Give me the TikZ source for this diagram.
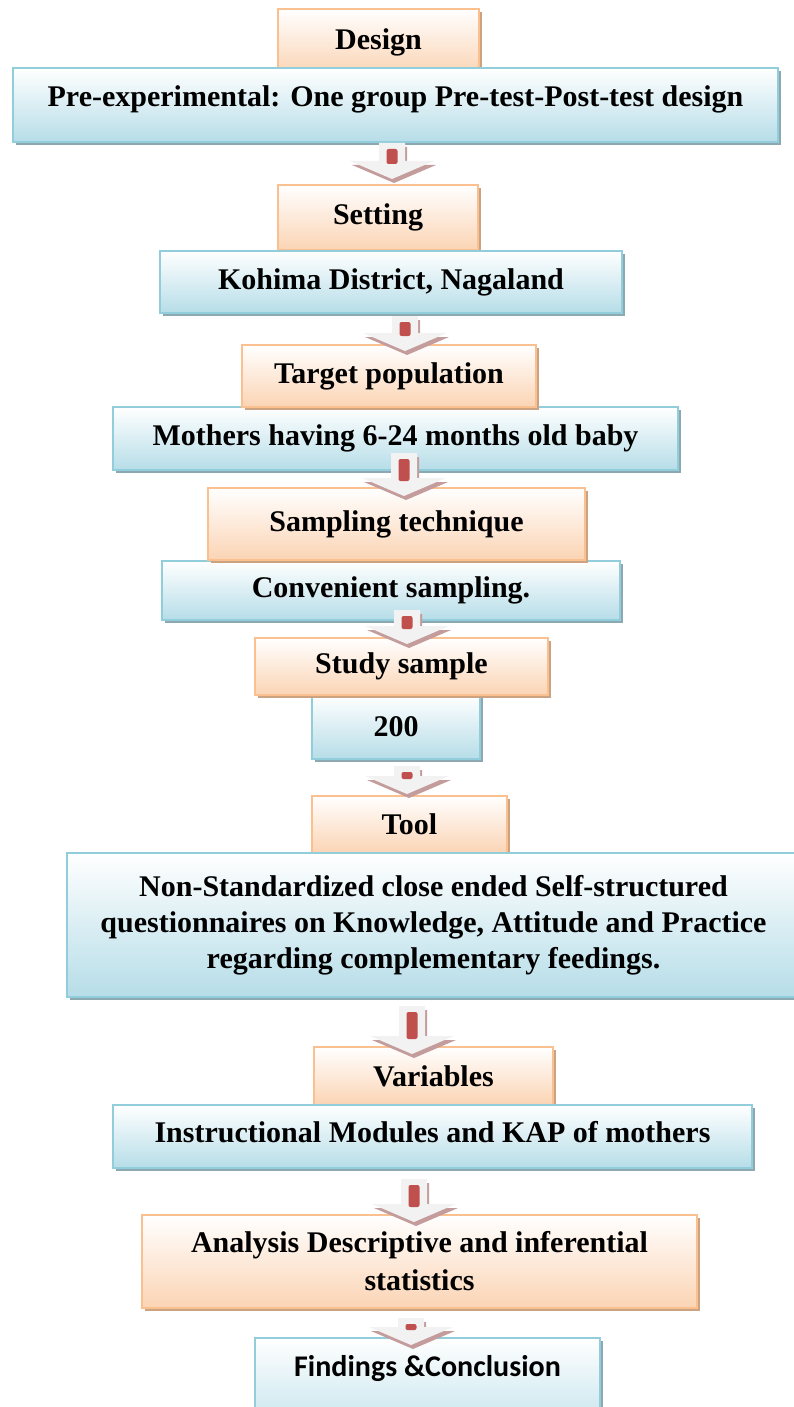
\documentclass[tikz,border=0pt]{standalone}
\usepackage{fontspec}
\setmainfont{Liberation Serif}
\newfontfamily\findfont{Carlito}
\usepackage{tikz}
\usetikzlibrary{calc, shadows}

\definecolor{peach}{HTML}{FBD4B4}
\definecolor{peachline}{HTML}{FAC08F}
\definecolor{peachshadow}{RGB}{203,163,128}
\definecolor{skyfill}{HTML}{B6DDE8}
\definecolor{skyline}{HTML}{92CDDC}
\definecolor{skyshadow}{RGB}{140,168,176}
\definecolor{arrowgray}{RGB}{242,242,242}
\definecolor{arrowpink}{RGB}{196,156,156}
\definecolor{arrowred}{HTML}{C0504D}

\tikzset{
  headbox/.style={draw=peachline, line width=1pt, top color=white, bottom color=peach,
    drop shadow={shadow xshift=1.5pt, shadow yshift=-1.5pt, fill=peachshadow, opacity=1},
    font=\fontsize{15}{18}\selectfont\bfseries, align=center, inner sep=2pt},
  infobox/.style={draw=skyline, line width=1pt, top color=white, bottom color=skyfill,
    drop shadow={shadow xshift=1.5pt, shadow yshift=-1.5pt, fill=skyshadow, opacity=1},
    font=\fontsize{15}{18}\selectfont\bfseries, align=center, inner sep=2pt},
  arrowback/.style={fill=arrowpink, transform canvas={shift={(1pt,-2pt)}}},
  arrowfront/.style={fill=arrowgray}
}

% block arrow: from node, to node, x, shift of start, shift of tip
\newcommand{\flowarrow}[5]{%
  \coordinate (fa-s) at ($(#1.south -| #3,0)+(0,#4)$);
  \coordinate (fa-t) at ($(#2.north -| #3,0)+(0,#5)$);
  \foreach \layer in {arrowback, arrowfront}
    \fill[\layer] ($(fa-s)+(-13,0)$) -- ($(fa-t)+(-13,-18)$) -- ($(fa-t)+(-42,-18)$) -- (fa-t)
      -- ($(fa-t)+(42,-18)$) -- ($(fa-t)+(13,-18)$) -- ($(fa-s)+(13,0)$) -- cycle;
  \fill[arrowred, rounded corners=1pt] ($(fa-s)+(-5.5,6)$) rectangle ($(fa-t)+(5.5,-15)$);
}

\begin{document}
\begin{tikzpicture}[x=0.5pt, y=-0.5pt]
  \useasboundingbox (0,0) rectangle (793,1407);

  \node[headbox, minimum width=100.5pt, minimum height=33pt] (design) at (378.5,42) {Design};
  \node[infobox, minimum width=382.5pt, minimum height=37pt, text depth=9pt] (pre) at (395.5,105)
    {Pre-experimental: One group Pre-test-Post-test design};

  \node[headbox, minimum width=100pt, minimum height=32.5pt] (setting) at (378,217.5) {Setting};
  \node[infobox, minimum width=231pt, minimum height=31pt] (kohima) at (391,282)
    {Kohima District, Nagaland};

  \node[infobox, minimum width=282.5pt, minimum height=31.5pt] (mothers) at (395.5,438.5)
    {Mothers having 6-24 months old baby};
  \node[headbox, minimum width=147pt, minimum height=31pt] (target) at (389,376) {Target population};

  \node[infobox, minimum width=229pt, minimum height=29.5pt] (conv) at (391,590.5)
    {Convenient sampling.};
  \node[headbox, minimum width=188.5pt, minimum height=36pt] (sampling) at (396.5,524)
    {Sampling technique};

  \node[infobox, minimum width=84pt, minimum height=32pt] (n200) at (396,727) {200};
  \node[headbox, minimum width=146.5pt, minimum height=28.5pt] (study) at (401.5,666.5) {Study sample};

  \node[headbox, minimum width=97.5pt, minimum height=28.5pt] (tool) at (409.5,824.5) {Tool};
  \node[infobox, minimum width=366.5pt, minimum height=72pt] (quest) at (433.5,925)
    {Non-Standardized close ended Self-structured\\
     questionnaires on Knowledge, Attitude and Practice\\
     regarding complementary feedings.};

  \node[headbox, minimum width=119.5pt, minimum height=29pt] (variables) at (433.5,1076) {Variables};
  \node[infobox, minimum width=319.5pt, minimum height=31.5pt, text depth=5pt] (instr) at (432.5,1136.5)
    {Instructional Modules and KAP of mothers};

  \node[headbox, minimum width=277.5pt, minimum height=46.5pt,
    font=\fontsize{15}{19}\selectfont\bfseries] (analysis) at (419.5,1261.5)
    {Analysis Descriptive and inferential\\ statistics};

  \node[infobox, anchor=north, minimum width=172.5pt, inner ysep=8pt, text height=11pt,
    text depth=30pt, font=\fontsize{15}{18}\selectfont\findfont\bfseries] (findings) at (427.5,1337)
    {Findings \&Conclusion};

  \flowarrow{pre}{setting}{392}{0}{-5}
  \flowarrow{kohima}{target}{405}{2}{7}
  \flowarrow{mothers}{sampling}{404}{-18}{9}
  \flowarrow{conv}{study}{407}{-11}{7}
  \flowarrow{n200}{tool}{407}{6}{-1}
  \flowarrow{quest}{variables}{412}{8}{8}
  \flowarrow{instr}{analysis}{414}{10}{8}
  \flowarrow{analysis}{findings}{411}{9}{8}

\end{tikzpicture}
\end{document}
